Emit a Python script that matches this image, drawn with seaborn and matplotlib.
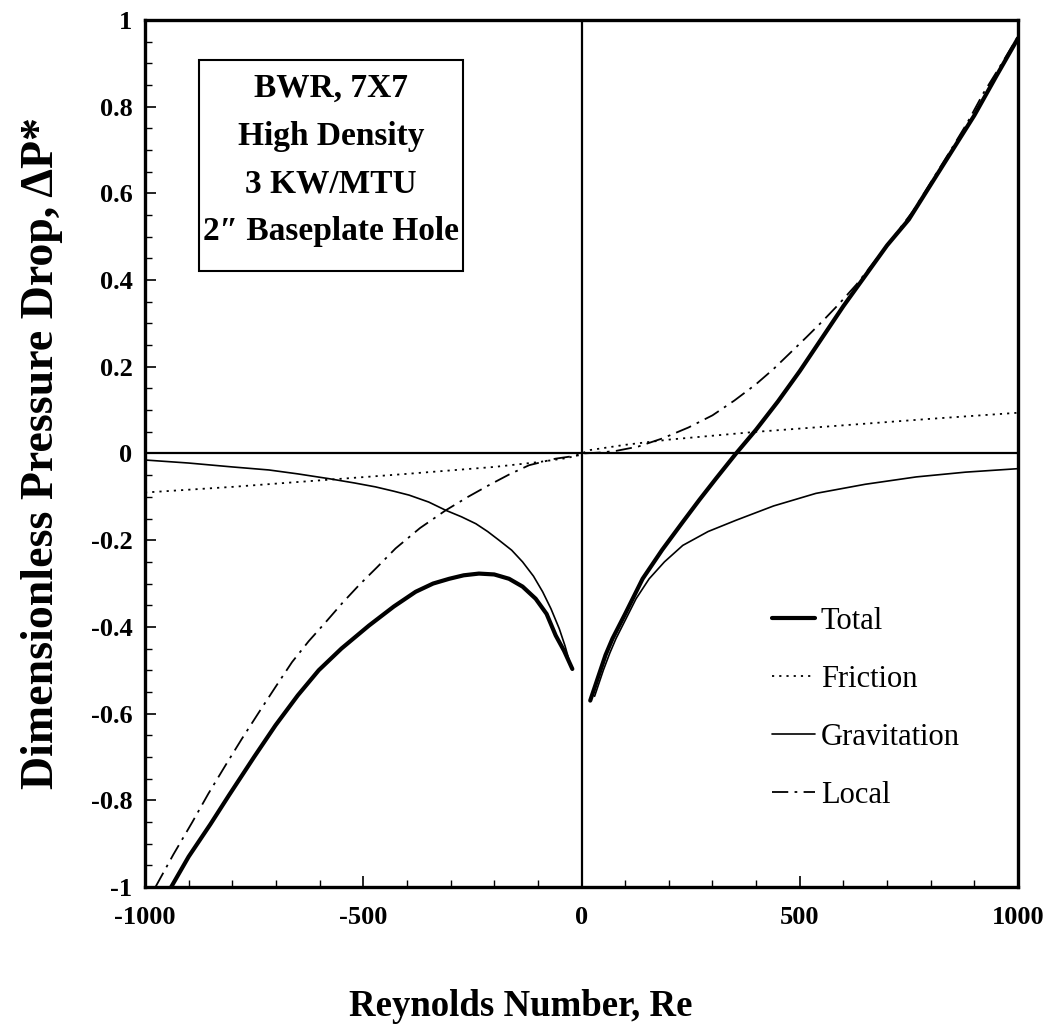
import numpy as np
import pandas as pd
import matplotlib
matplotlib.use("Agg")
import matplotlib.pyplot as plt
import matplotlib.patches as mpatches
import seaborn as sns
from matplotlib.ticker import MultipleLocator

# ---------------- data ----------------
total_re_neg = [-940, -900, -850, -808, -750, -701, -650, -602, -550, -487, -430, -380, -340, -303,
                -270, -235, -200, -166, -135, -105, -80, -59, -40, -21]
total_neg = [-1.0, -0.930, -0.855, -0.789, -0.700, -0.627, -0.558, -0.500, -0.450, -0.397, -0.353,
             -0.319, -0.300, -0.289, -0.281, -0.277, -0.279, -0.289, -0.307, -0.335, -0.370, -0.420,
             -0.455, -0.497]
total_re_pos = [20, 30, 40, 55, 71, 100, 140, 185, 232, 270, 308, 354, 400, 450, 500, 550, 600, 650,
                700, 750, 800, 850, 900, 950, 1000]
total_pos = [-0.570, -0.540, -0.510, -0.465, -0.427, -0.370, -0.289, -0.222, -0.158, -0.107, -0.058,
             0.0, 0.055, 0.120, 0.190, 0.265, 0.340, 0.410, 0.480, 0.540, 0.620, 0.700, 0.780, 0.870, 0.958]

fric_re = [-1000, -800, -600, -400, -200, -100, -30, 0, 20, 100, 200, 400, 600, 800, 1000]
fric = [-0.090, -0.077, -0.062, -0.047, -0.031, -0.020, -0.010, 0.0, 0.008, 0.020, 0.032, 0.050,
        0.065, 0.080, 0.094]

grav_re_neg = [-1000, -900, -800, -716, -650, -579, -520, -472, -430, -395, -350, -311, -275, -242,
               -215, -189, -160, -135, -110, -89, -70, -51, -38, -25]
grav_neg = [-0.015, -0.022, -0.031, -0.038, -0.047, -0.058, -0.068, -0.077, -0.087, -0.096, -0.112,
            -0.131, -0.146, -0.162, -0.180, -0.200, -0.223, -0.250, -0.283, -0.319, -0.358, -0.404,
            -0.443, -0.489]
grav_re_pos = [30, 40, 50, 65, 79, 100, 125, 155, 190, 232, 290, 354, 440, 537, 650, 767, 880, 1000]
grav_pos = [-0.560, -0.530, -0.500, -0.460, -0.427, -0.385, -0.335, -0.289, -0.250, -0.212, -0.180,
            -0.154, -0.121, -0.092, -0.071, -0.054, -0.043, -0.035]

local_re = [-976, -935, -892, -855, -816, -778, -739, -700, -663, -625, -586, -548, -510, -468, -426,
            -370, -311, -260, -212, -165, -120, -60, -5,
            0, 40, 79, 130, 186, 245, 300, 350, 400, 440, 476, 515, 552, 590, 630, 665, 700, 730,
            760, 800, 846, 885, 920, 960, 1000]
local = [-1.0, -0.925, -0.851, -0.785, -0.720, -0.658, -0.597, -0.537, -0.481, -0.433, -0.389, -0.345,
         -0.304, -0.262, -0.219, -0.172, -0.131, -0.100, -0.073, -0.048, -0.027, -0.012, -0.004,
         0.0, 0.002, 0.006, 0.016, 0.035, 0.060, 0.088, 0.122, 0.160, 0.195, 0.230, 0.268, 0.305,
         0.345, 0.390, 0.435, 0.480, 0.520, 0.560, 0.625, 0.700, 0.765, 0.830, 0.895, 0.962]

y_ticks = [-1, -0.8, -0.6, -0.4, -0.2, 0, 0.2, 0.4, 0.6, 0.8, 1]
y_tick_labels = ["-1", "-0.8", "-0.6", "-0.4", "-0.2", "0", "0.2", "0.4", "0.6", "0.8", "1"]
x_ticks = [-1000, -500, 0, 500, 1000]
x_tick_labels = ["-1000", "-500", "0", "500", "1000"]

series_names = ["Total", "Friction", "Gravitation", "Local"]
box_text = "BWR, 7X7\nHigh Density\n3 KW/MTU\n2\u2033 Baseplate Hole"

# ---------------- style ----------------
sns.set_theme(style="ticks")
plt.rcParams["font.family"] = ["Liberation Serif", "DejaVu Serif"]

fig = plt.figure(figsize=(10.51, 10.32), dpi=100)
ax = fig.add_axes([145 / 1051, 1 - 887 / 1032, 873 / 1051, 867 / 1032])

dashdot = (0, (9, 3.5, 1.5, 3.5))

sns.lineplot(x=total_re_neg, y=total_neg, ax=ax, color="black", linewidth=3.0, label=series_names[0], sort=False)
sns.lineplot(x=total_re_pos, y=total_pos, ax=ax, color="black", linewidth=3.0, sort=False)
sns.lineplot(x=fric_re, y=fric, ax=ax, color="black", linewidth=1.3, linestyle=(0, (1.2, 2.8)),
             label=series_names[1], sort=False)
sns.lineplot(x=grav_re_neg, y=grav_neg, ax=ax, color="black", linewidth=1.2, label=series_names[2], sort=False)
sns.lineplot(x=grav_re_pos, y=grav_pos, ax=ax, color="black", linewidth=1.2, sort=False)
sns.lineplot(x=local_re, y=local, ax=ax, color="black", linewidth=1.3, linestyle=dashdot,
             label=series_names[3], sort=False)

ax.axhline(0, color="black", linewidth=1.6, zorder=1)
ax.axvline(0, color="black", linewidth=1.6, zorder=1)

ax.set_xlim(-1000, 1000)
ax.set_ylim(-1, 1)
ax.set_xticks(x_ticks)
ax.set_xticklabels(x_tick_labels)
ax.set_yticks(y_ticks)
ax.set_yticklabels(y_tick_labels)
ax.xaxis.set_minor_locator(MultipleLocator(100))
ax.yaxis.set_minor_locator(MultipleLocator(0.05))
ax.tick_params(axis="both", which="major", direction="in", length=8, width=1.2, color="black")
ax.tick_params(axis="both", which="minor", direction="in", length=5, width=1.0, color="black")
ax.tick_params(axis="x", which="major", pad=14, labelsize=19)
ax.tick_params(axis="y", which="major", pad=9, labelsize=19)
for lab in ax.get_xticklabels() + ax.get_yticklabels():
    lab.set_fontweight("bold")
    lab.set_color("black")

for sp in ax.spines.values():
    sp.set_visible(True)
    sp.set_linewidth(2.4)
    sp.set_color("black")

ax.set_xlabel("Reynolds Number, Re", fontsize=26.5, fontweight="bold", color="black")
ax.xaxis.set_label_coords(0.43, -0.118)
ax.set_ylabel("Dimensionless Pressure Drop, \u0394P*", fontsize=33, fontweight="bold", color="black", labelpad=20)

# annotation box
ax.add_patch(mpatches.Rectangle((0.0619, 0.7105), 0.3024, 0.2434, transform=ax.transAxes,
                                facecolor="white", edgecolor="black", linewidth=1.5, zorder=5))
ax.text(0.213, 0.8385, box_text, transform=ax.transAxes, ha="center", va="center",
        fontsize=24, fontweight="bold", color="black", linespacing=1.7, zorder=6)

leg = ax.legend(loc="upper left", bbox_to_anchor=(0.718, 0.323), frameon=False,
                fontsize=22, handlelength=1.4, handletextpad=0.2, labelspacing=0.95,
                borderaxespad=0, borderpad=0)
for t in leg.get_texts():
    t.set_color("black")

fig.savefig("out.png", dpi=100, facecolor="white")
